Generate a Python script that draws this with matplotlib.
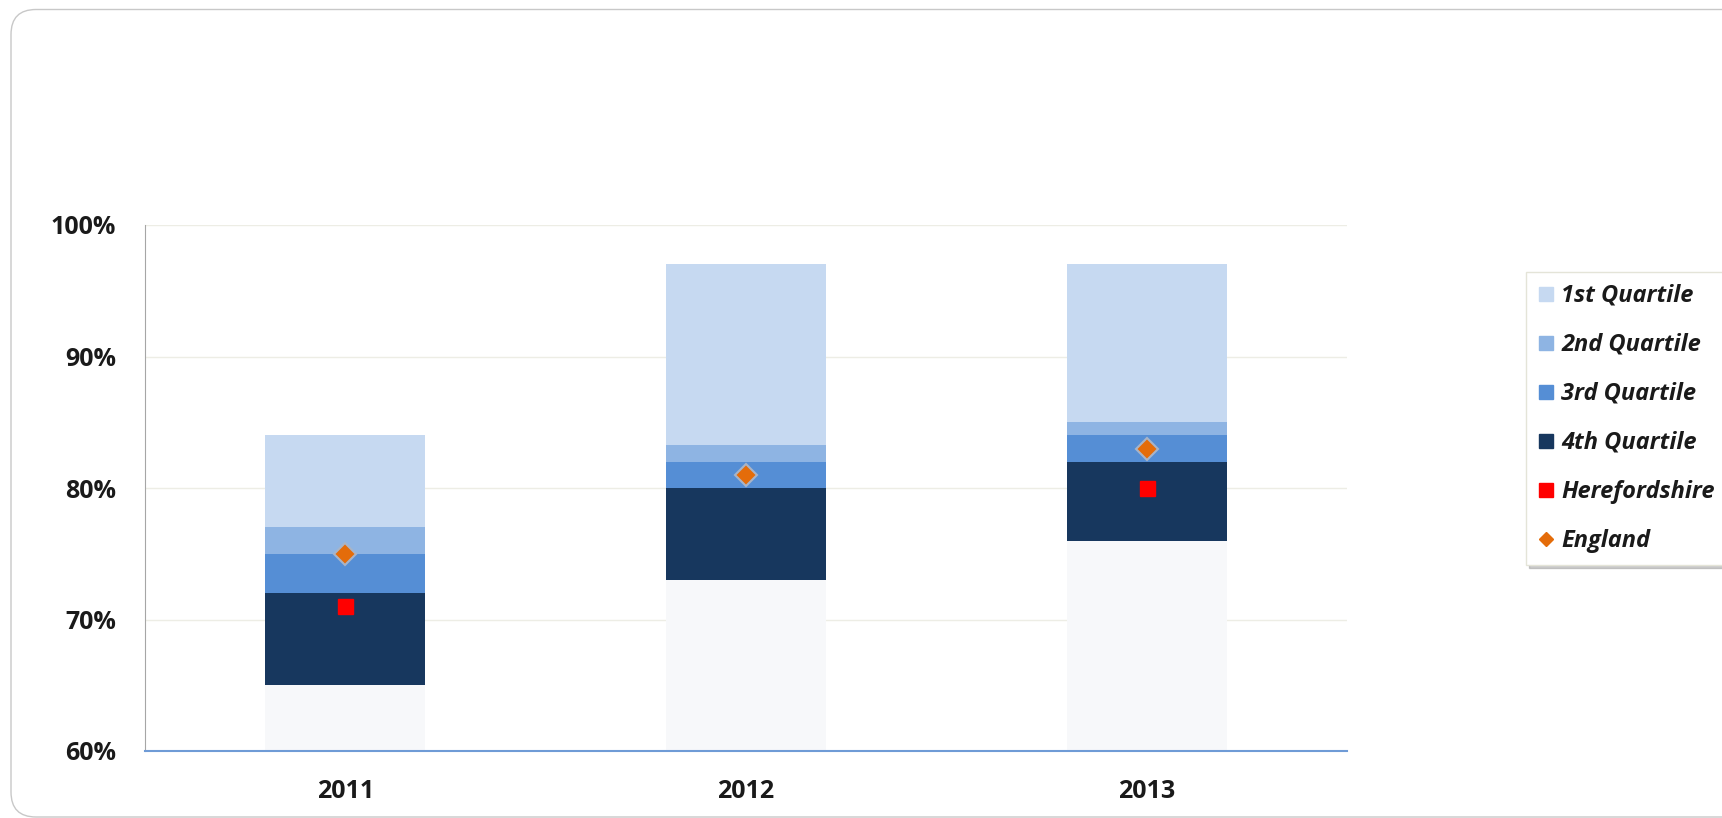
import numpy as np
import matplotlib.pyplot as plt
from matplotlib.patches import FancyBboxPatch
from matplotlib.lines import Line2D
from matplotlib.transforms import IdentityTransform
from matplotlib.ticker import FuncFormatter

# data (percent)
years = ['2011', '2012', '2013']
q4_low = [65, 73, 76]      # lowest value, bottom of 4th quartile
q4_high = [72, 80, 82]
q3_high = [75, 82, 84]
q2_high = [77, 83.3, 85]
q1_high = [84, 97, 97]
herefordshire = [71, np.nan, 80]
england = [75, 81, 83]

labels = ['1st Quartile', '2nd Quartile', '3rd Quartile', '4th Quartile',
          'Herefordshire', 'England']
colors = {'base': '#F7F8FA', '4th': '#17375E', '3rd': '#558ED5',
          '2nd': '#8EB4E3', '1st': '#C6D9F1'}

W, H = 1722, 818
fig = plt.figure(figsize=(W / 100, H / 100), dpi=100)
ax = fig.add_axes([145 / W, 1 - 751 / H, (1347 - 145) / W, (751 - 225) / H])

x = np.arange(len(years))
bw = 0.40
low = np.array(q4_low, float)
segs = [('4th', np.array(q4_high) - low),
        ('3rd', np.array(q3_high) - np.array(q4_high)),
        ('2nd', np.array(q2_high) - np.array(q3_high)),
        ('1st', np.array(q1_high) - np.array(q2_high))]

ax.bar(x, low, bw, color=colors['base'], zorder=2)
bottom = low.copy()
for name, h in segs:
    ax.bar(x, h, bw, bottom=bottom, color=colors[name], zorder=2)
    bottom = bottom + h

ax.plot(x, herefordshire, ls='none', marker='s', ms=10.8, color='#FF0000',
        mec='#FF0000', zorder=3)
ax.plot(x, england, ls='none', marker='D', ms=11, color='#E46C0A',
        mec='#A8B4C8', mew=1.5, zorder=4)

ax.set_xlim(-0.5, 2.5)
ax.set_ylim(60, 100)
ax.set_yticks([60, 70, 80, 90, 100])
ax.yaxis.set_major_formatter(FuncFormatter(lambda v, p: f'{v:.0f}%'))
ax.set_xticks(x)
ax.set_xticklabels(years)
ax.grid(axis='y', color='#EDEDE5', lw=1, zorder=0)
ax.set_axisbelow(True)
for s in ['top', 'right']:
    ax.spines[s].set_visible(False)
ax.spines['left'].set_color('#A6A6A6')
ax.spines['bottom'].set_color('#6F9BD6')
ax.spines['bottom'].set_linewidth(1.5)
ax.tick_params(length=0, labelsize=18, colors='#1A1A1A')
ax.tick_params(axis='y', pad=21)
ax.tick_params(axis='x', pad=20)
for t in ax.get_xticklabels() + ax.get_yticklabels():
    t.set_fontfamily('Open Sans')
    t.set_fontweight('bold')

# legend proxies
handles = [Line2D([], [], ls='none', marker='s', ms=9.5, color=colors[k], mec=colors[k])
           for k in ['1st', '2nd', '3rd', '4th']]
handles.append(Line2D([], [], ls='none', marker='s', ms=9.5, color='#FF0000', mec='#FF0000'))
handles.append(Line2D([], [], ls='none', marker='D', ms=7, color='#E46C0A', mec='#E46C0A'))
leg = fig.legend(handles, labels, loc='upper left', bbox_to_anchor=(1526 / W, 1 - 272 / H),
                 prop={'family': 'Open Sans', 'weight': 'bold', 'style': 'italic', 'size': 17},
                 handlelength=0.7, handletextpad=0.3, labelspacing=1.06, borderpad=0.5,
                 borderaxespad=0, frameon=True, fancybox=False,
                 shadow={'color': '#9A9A9A', 'alpha': 0.5})
leg.get_frame().set_edgecolor('#E4E4D8')
leg.get_frame().set_linewidth(1)
for t in leg.get_texts():
    t.set_color('#1A1A1A')

# outer rounded frame
frame = FancyBboxPatch((11, 1), W + 40, H - 9.5 - 1,
                       boxstyle='round,pad=0,rounding_size=25',
                       transform=IdentityTransform(), fill=False,
                       ec='#C8C8C8', lw=1)
fig.patches.append(frame)

fig.savefig('out.png', dpi=100)
